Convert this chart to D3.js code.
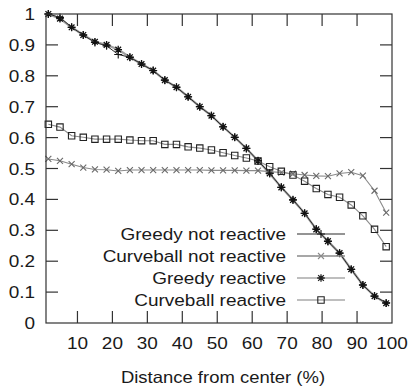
<!DOCTYPE html>
<html>
<head>
<meta charset="utf-8">
<script src="https://cdn.jsdelivr.net/npm/d3@7"></script>
<style>
  html, body { margin: 0; padding: 0; background: #fff; }
  svg { display: block; }
  text { font-family: "Liberation Sans", Arial, sans-serif; fill: #1a1a1a; }
</style>
</head>
<body>
<svg id="chart" width="409" height="391"></svg>
<script>
// Bin centres of 30 equal-width distance bins (percent of radius)
const distance = d3.range(30).map(i => (i + 0.5) * 100 / 30);

const seriesNames = ["Greedy not reactive", "Curveball not reactive", "Greedy reactive", "Curveball reactive"];

const greedyNotReactive = [
  1.000, 0.989, 0.957, 0.932, 0.908, 0.897, 0.869, 0.860, 0.838, 0.817,
  0.786, 0.763, 0.732, 0.700, 0.671, 0.635, 0.601, 0.565, 0.525, 0.485,
  0.439, 0.399, 0.355, 0.304, 0.264, 0.226, 0.173, 0.123, 0.087, 0.065
];
const curveballNotReactive = [
  0.531, 0.525, 0.514, 0.503, 0.497, 0.496, 0.492, 0.495, 0.495, 0.495,
  0.495, 0.495, 0.495, 0.495, 0.494, 0.494, 0.494, 0.493, 0.493, 0.490,
  0.487, 0.483, 0.479, 0.476, 0.475, 0.484, 0.488, 0.477, 0.428, 0.357
];
const greedyReactive = [
  1.000, 0.985, 0.957, 0.932, 0.910, 0.900, 0.885, 0.860, 0.838, 0.817,
  0.786, 0.763, 0.732, 0.700, 0.671, 0.635, 0.601, 0.565, 0.525, 0.484,
  0.439, 0.398, 0.355, 0.303, 0.265, 0.226, 0.174, 0.123, 0.087, 0.064
];
const curveballReactive = [
  0.643, 0.634, 0.606, 0.601, 0.595, 0.595, 0.595, 0.592, 0.590, 0.590,
  0.578, 0.578, 0.570, 0.566, 0.560, 0.551, 0.542, 0.534, 0.524, 0.506,
  0.491, 0.479, 0.459, 0.435, 0.416, 0.407, 0.382, 0.347, 0.303, 0.247
];

const xTicks = [10, 20, 30, 40, 50, 60, 70, 80, 90, 100];
const yTicks = [0, 0.1, 0.2, 0.3, 0.4, 0.5, 0.6, 0.7, 0.8, 0.9, 1];
const yTickLabels = ["0", "0.1", "0.2", "0.3", "0.4", "0.5", "0.6", "0.7", "0.8", "0.9", "1"];
const xTitle = "Distance from center (%)";

const svg = d3.select("#chart");
const plot = { left: 46, right: 392, top: 14, bottom: 323 };
const x = d3.scaleLinear().domain([1, 100]).range([plot.left, plot.right]);
const y = d3.scaleLinear().domain([0, 1]).range([plot.bottom, plot.top]);

const FONT = 16.5, STRETCH = 1.15;   // labels are set slightly wide
function label(g, tx, ty, str, anchor, stretch = STRETCH) {
  return g.append("text")
    .attr("transform", `translate(${tx},${ty}) scale(${stretch},1)`)
    .attr("text-anchor", anchor)
    .attr("font-size", FONT)
    .text(str);
}

// Marker glyphs
const marker = {
  plus: s => `M${-s},0H${s}M0,${-s}V${s}`,
  cross: s => `M${-s},${-s}L${s},${s}M${-s},${s}L${s},${-s}`,
  star: s => `M${-s},0H${s}M0,${-s}V${s}M${-s*0.75},${-s*0.75}L${s*0.75},${s*0.75}M${-s*0.75},${s*0.75}L${s*0.75},${-s*0.75}`,
  square: s => `M${-s},${-s}H${s}V${s}H${-s}Z`
};

const series = [
  { name: seriesNames[2], values: greedyReactive, line: "#a0a0a0", lw: 2.2, mark: "star", ms: 3.8, mc: "#111", mw: 1.3 },
  { name: seriesNames[1], values: curveballNotReactive, line: "#8a8a8a", lw: 1.1, mark: "cross", ms: 3, mc: "#6a6a6a", mw: 1.1 },
  { name: seriesNames[3], values: curveballReactive, line: "#8c8c8c", lw: 1.1, mark: "square", ms: 3.2, mc: "#222", mw: 1.1 },
  { name: seriesNames[0], values: greedyNotReactive, line: "#2a2a2a", lw: 1.0, mark: "plus", ms: 4, mc: "#111", mw: 1.1 }
];

const line = d3.line().x((d, i) => x(distance[i])).y(d => y(d));

const gSeries = svg.append("g");
series.forEach(s => {
  gSeries.append("path")
    .attr("d", line(s.values))
    .attr("fill", "none")
    .attr("stroke", s.line)
    .attr("stroke-width", s.lw);
  gSeries.selectAll(null).data(s.values).join("path")
    .attr("transform", (d, i) => `translate(${x(distance[i])},${y(d)})`)
    .attr("d", marker[s.mark](s.ms))
    .attr("fill", "none")
    .attr("stroke", s.mc)
    .attr("stroke-width", s.mw);
});

// Frame and inward ticks
const axisColor = "#333";
svg.append("rect")
  .attr("x", plot.left).attr("y", plot.top)
  .attr("width", plot.right - plot.left).attr("height", plot.bottom - plot.top)
  .attr("fill", "none").attr("stroke", axisColor).attr("stroke-width", 1.2);

const TL = 12;
const tickG = svg.append("g").attr("stroke", axisColor).attr("stroke-width", 1.2);
xTicks.filter(v => v < 100).forEach(v => {
  tickG.append("line").attr("x1", x(v)).attr("x2", x(v)).attr("y1", plot.bottom).attr("y2", plot.bottom - TL);
  tickG.append("line").attr("x1", x(v)).attr("x2", x(v)).attr("y1", plot.top).attr("y2", plot.top + TL);
});
yTicks.filter(v => v > 0 && v < 1).forEach(v => {
  tickG.append("line").attr("x1", plot.left).attr("x2", plot.left + TL).attr("y1", y(v)).attr("y2", y(v));
  tickG.append("line").attr("x1", plot.right).attr("x2", plot.right - TL).attr("y1", y(v)).attr("y2", y(v));
});

// Tick labels
const labels = svg.append("g");
yTicks.forEach((v, i) => label(labels, 35, y(v) + 6, yTickLabels[i], "end"));
xTicks.forEach(v => label(labels, x(v), 349, String(v), "middle"));
label(labels, 223, 383, xTitle, "middle", 1.12);

// Legend
const legendOrder = [
  { name: seriesNames[0], line: "#2a2a2a", lw: 1.2, mark: "plus", ms: 4, mc: "#111", mw: 1.1 },
  { name: seriesNames[1], line: "#8a8a8a", lw: 1.4, mark: "cross", ms: 3, mc: "#8a8a8a", mw: 1.1 },
  { name: seriesNames[2], line: "#a8a8a8", lw: 1.4, mark: "star", ms: 3.8, mc: "#222", mw: 1.3 },
  { name: seriesNames[3], line: "#a8a8a8", lw: 1.4, mark: "square", ms: 3.2, mc: "#222", mw: 1.1 }
];
const legend = svg.append("g");
legendOrder.forEach((s, i) => {
  const ly = 234 + i * 22;
  label(legend, 286, ly + 6, s.name, "end");
  legend.append("line").attr("x1", 297).attr("x2", 345).attr("y1", ly).attr("y2", ly)
    .attr("stroke", s.line).attr("stroke-width", s.lw);
  legend.append("path").attr("transform", `translate(321,${ly})`).attr("d", marker[s.mark](s.ms))
    .attr("fill", "none").attr("stroke", s.mc).attr("stroke-width", s.mw);
});
</script>
</body>
</html>
